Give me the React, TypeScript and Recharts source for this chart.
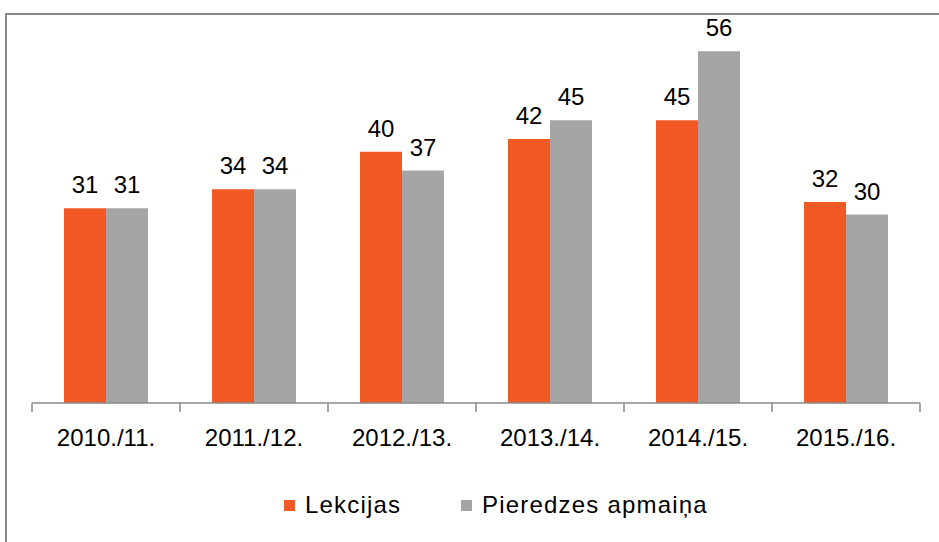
import React from 'react';
import { BarChart, Bar, XAxis, YAxis, LabelList, Legend } from 'recharts';

const categories = ['2010./11.', '2011./12.', '2012./13.', '2013./14.', '2014./15.', '2015./16.'];
const lekcijas = [31, 34, 40, 42, 45, 32];
const pieredzes = [31, 34, 37, 45, 56, 30];

const data = categories.map((name, i) => ({
  name,
  lekcijas: lekcijas[i],
  pieredzes: pieredzes[i],
}));

const W = 939;
const H = 542;
const margin = { top: 26, right: 19, left: 32, bottom: 99 };
const bandWidth = (W - margin.left - margin.right) / categories.length;
const FONT = '"Liberation Sans", Arial, sans-serif';
const AXIS = '#898989';

const CategoryTick = (props: any) => {
  const { x, y, payload, index } = props;
  const left = x - bandWidth / 2;
  const right = x + bandWidth / 2;
  return (
    <g>
      <line x1={left} y1={y} x2={left} y2={y + 9} stroke={AXIS} strokeWidth={1.5} />
      {index === categories.length - 1 && (
        <line x1={right} y1={y} x2={right} y2={y + 9} stroke={AXIS} strokeWidth={1.5} />
      )}
      <text x={x} y={y + 43} textAnchor="middle" fill="#000" fontSize={24} fontFamily={FONT}>
        {payload.value}
      </text>
    </g>
  );
};

const LegendContent = (props: any) => {
  const { payload } = props;
  return (
    <div
      style={{
        display: 'flex',
        alignItems: 'center',
        fontFamily: FONT,
        fontSize: 24,
        letterSpacing: 1.2,
        color: '#000',
      }}
    >
      {(payload || []).map((item: any, i: number) => (
        <div key={`leg-${i}`} style={{ display: 'flex', alignItems: 'center', width: i === 0 ? 177 : 'auto' }}>
          <span style={{ width: 11, height: 11, background: item.color, display: 'inline-block', marginRight: 10 }} />
          <span style={{ whiteSpace: 'nowrap' }}>{item.value}</span>
        </div>
      ))}
    </div>
  );
};

export default function App() {
  return (
    <div style={{ position: 'absolute', left: 0, top: 0, width: W, height: H, overflow: 'hidden', background: '#fff' }}>
      <div
        style={{
          position: 'absolute',
          left: 5,
          top: 13,
          width: W,
          height: H,
          borderTop: `2px solid ${AXIS}`,
          borderLeft: `2px solid ${AXIS}`,
        }}
      />
      <BarChart width={W} height={H} data={data} margin={margin} barCategoryGap={32} barGap={0}>
        <XAxis
          dataKey="name"
          height={40}
          axisLine={{ stroke: AXIS, strokeWidth: 1.5 }}
          tickLine={false}
          tickSize={0}
          tickMargin={0}
          interval={0}
          tick={<CategoryTick />}
        />
        <YAxis hide domain={[0, 60]} />
        <Legend
          verticalAlign="middle"
          align="center"
          layout="horizontal"
          content={<LegendContent />}
          wrapperStyle={{ top: 491, left: 284, width: 'auto' }}
        />
        <Bar dataKey="lekcijas" name="Lekcijas" fill="#F15A24" isAnimationActive={false}>
          <LabelList dataKey="lekcijas" position="top" offset={15} fill="#000" fontSize={24} fontFamily={FONT} />
        </Bar>
        <Bar dataKey="pieredzes" name="Pieredzes apmaiņa" fill="#A5A5A5" isAnimationActive={false}>
          <LabelList dataKey="pieredzes" position="top" offset={15} fill="#000" fontSize={24} fontFamily={FONT} />
        </Bar>
      </BarChart>
    </div>
  );
}
